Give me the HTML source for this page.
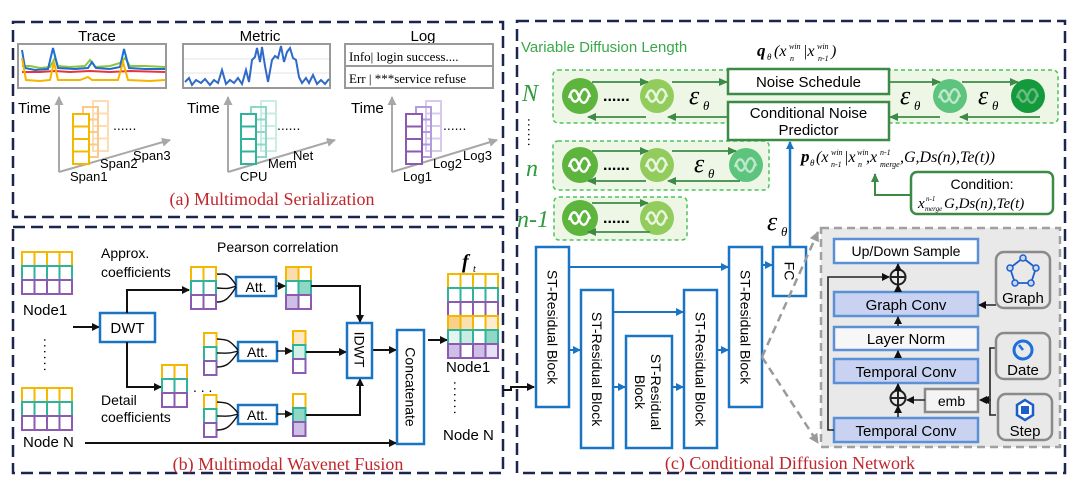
<!DOCTYPE html>
<html><head><meta charset="utf-8"><style>
html,body{margin:0;padding:0;background:#fff;}
svg{display:block;}
text{font-family:"Liberation Sans",sans-serif;}
.s, .s text, text.s{font-family:"Liberation Serif",serif;}
</style></head><body>
<svg width="1080" height="495" viewBox="0 0 1080 495" xmlns="http://www.w3.org/2000/svg">
<defs>
<marker id="ak" markerWidth="8" markerHeight="8" refX="7" refY="4" orient="auto" markerUnits="userSpaceOnUse"><path d="M0,0 L8,4 L0,8z" fill="#111"/></marker>
<marker id="ab" markerWidth="8" markerHeight="8" refX="7" refY="4" orient="auto" markerUnits="userSpaceOnUse"><path d="M0,0 L8,4 L0,8z" fill="#1a74c4"/></marker>
<marker id="ag" markerWidth="9" markerHeight="8" refX="8" refY="4" orient="auto" markerUnits="userSpaceOnUse"><path d="M0,0 L9,4 L0,8z" fill="#3c8a46"/></marker>
<marker id="agr" markerWidth="10" markerHeight="10" refX="9" refY="5" orient="auto" markerUnits="userSpaceOnUse"><path d="M0,0 L10,5 L0,10z" fill="#9a9a9a"/></marker>
<marker id="aa" markerWidth="9" markerHeight="9" refX="8" refY="4.5" orient="auto" markerUnits="userSpaceOnUse"><path d="M0,0 L9,4.5 L0,9z" fill="#a8a8a8"/></marker>
<g id="wv"><path d="M-11,2 C-8,-8 -4,-8 -1,1 C2,9 6,9 9,-1 M-10,-2 C-7,8 -3,8 0,-1 C3,-9 7,-9 10,1" fill="none" stroke="#fff" stroke-width="2.4"/></g>
<rect id="cy" width="12.5" height="14" fill="#fff" stroke="#f5b800" stroke-width="2"/>
<rect id="ct" width="12.5" height="14" fill="#fff" stroke="#2fb39b" stroke-width="2"/>
<rect id="cp" width="12.5" height="14" fill="#fff" stroke="#8a5bb0" stroke-width="2"/>
<g id="grid4">
<use href="#cy" x="0" y="0"/><use href="#cy" x="12.5" y="0"/><use href="#cy" x="25" y="0"/><use href="#cy" x="37.5" y="0"/>
<use href="#ct" x="0" y="14"/><use href="#ct" x="12.5" y="14"/><use href="#ct" x="25" y="14"/><use href="#ct" x="37.5" y="14"/>
<use href="#cp" x="0" y="28"/><use href="#cp" x="12.5" y="28"/><use href="#cp" x="25" y="28"/><use href="#cp" x="37.5" y="28"/>
</g>
<g id="grid2">
<use href="#cy" x="0" y="0"/><use href="#cy" x="12.5" y="0"/>
<use href="#ct" x="0" y="14"/><use href="#ct" x="12.5" y="14"/>
<use href="#cp" x="0" y="28"/><use href="#cp" x="12.5" y="28"/>
</g>
<g id="col1"><use href="#cy" x="0" y="0"/><use href="#ct" x="0" y="14"/><use href="#cp" x="0" y="28"/></g>
</defs>

<g fill="none" stroke="#1b2550" stroke-width="2.5" stroke-dasharray="12,6">
<rect x="13" y="22" width="490" height="195"/>
<rect x="13" y="227" width="490" height="246"/>
<rect x="517" y="21" width="548" height="452"/>
</g>

<!-- ===== Panel (a) ===== -->
<text x="97" y="41" font-size="15" text-anchor="middle">Trace</text>
<text x="260" y="41" font-size="15" text-anchor="middle">Metric</text>
<text x="423" y="41" font-size="15" text-anchor="middle">Log</text>
<rect x="18" y="44" width="148" height="44" fill="#fff" stroke="#999" stroke-width="2"/>
<polyline points="22,66 30,66 40,68 50,67 55,58 58,66 70,67 85,66 90,60 95,67 110,66 120,63 125,58 130,66 145,66 165,67" fill="none" stroke="#8cc63f" stroke-width="2"/>
<polyline points="22,72 40,72 55,71 70,72 90,71 110,72 130,71 165,72" fill="none" stroke="#e8333c" stroke-width="2"/>
<polyline points="22,50 25,68 35,70 48,69 53,48 58,68 75,69 88,68 92,62 96,68 110,69 120,67 124,49 129,68 145,69 165,69" fill="none" stroke="#1c6fd1" stroke-width="2"/>
<polyline points="22,58 26,80 40,81 50,80 54,62 58,80 80,80 88,77 92,80 118,80 123,62 128,80 150,81 165,80" fill="none" stroke="#f7b500" stroke-width="2"/>
<rect x="183" y="44" width="147" height="44" fill="#fff" stroke="#999" stroke-width="2"/>
<line x1="184" y1="59" x2="329" y2="59" stroke="#e4e4e4"/><line x1="184" y1="73" x2="329" y2="73" stroke="#e4e4e4"/>
<polyline points="185,82 189,78 192,85 196,80 201,83 205,79 210,85 214,80 218,83 222,70 226,84 230,80 234,83 238,78 242,84 246,70 249,82 252,60 255,57 257,48 260,62 262,47 265,66 268,82 272,60 275,56 278,58 281,46 284,62 287,52 290,48 293,58 296,60 299,77 302,83 306,78 309,83 313,75 317,84 321,80 325,84 329,79" fill="none" stroke="#2f6ac8" stroke-width="2"/>
<rect x="345" y="44" width="148" height="44" fill="#fff" stroke="#999" stroke-width="2"/>
<line x1="345" y1="66" x2="493" y2="66" stroke="#999" stroke-width="2"/>
<text x="349" y="61" font-size="13" class="s">Info| login success....</text>
<text x="349" y="83" font-size="13" class="s">Err | ***service refuse</text>

<g font-size="15">
<text x="18" y="113">Time</text><text x="187" y="113">Time</text><text x="351" y="113">Time</text>
</g>
<g stroke="#a8a8a8" stroke-width="2" fill="none" marker-end="url(#aa)">
<polyline points="59,172 59,97"/><line x1="59" y1="172" x2="170" y2="140"/>
<polyline points="228,172 228,97"/><line x1="228" y1="172" x2="335" y2="140"/>
<polyline points="392,172 392,97"/><line x1="392" y1="172" x2="497" y2="140"/>
</g>
<g fill="none" stroke-width="2">
<g stroke="#fcdcb0"><rect x="93" y="101" width="15" height="50"/><line x1="93" y1="113.5" x2="108" y2="113.5"/><line x1="93" y1="126" x2="108" y2="126"/><line x1="93" y1="138.5" x2="108" y2="138.5"/></g>
<g stroke="#fbc98a"><rect x="83" y="107" width="15" height="50"/><line x1="83" y1="119.5" x2="98" y2="119.5"/><line x1="83" y1="132" x2="98" y2="132"/><line x1="83" y1="144.5" x2="98" y2="144.5"/></g>
<g stroke="#f5b800" fill="#fff"><rect x="73" y="114" width="16" height="50"/><line x1="73" y1="126.5" x2="89" y2="126.5"/><line x1="73" y1="139" x2="89" y2="139"/><line x1="73" y1="151.5" x2="89" y2="151.5"/></g>
<g stroke="#c9ece4"><rect x="261" y="101" width="15" height="50"/><line x1="261" y1="113.5" x2="276" y2="113.5"/><line x1="261" y1="126" x2="276" y2="126"/><line x1="261" y1="138.5" x2="276" y2="138.5"/></g>
<g stroke="#8fd8c6"><rect x="251" y="107" width="15" height="50"/><line x1="251" y1="119.5" x2="266" y2="119.5"/><line x1="251" y1="132" x2="266" y2="132"/><line x1="251" y1="144.5" x2="266" y2="144.5"/></g>
<g stroke="#2fb39b" fill="#fff"><rect x="241" y="114" width="15" height="50"/><line x1="241" y1="126.5" x2="256" y2="126.5"/><line x1="241" y1="139" x2="256" y2="139"/><line x1="241" y1="151.5" x2="256" y2="151.5"/></g>
<g stroke="#d9c9ef"><rect x="426" y="101" width="15" height="50"/><line x1="426" y1="113.5" x2="441" y2="113.5"/><line x1="426" y1="126" x2="441" y2="126"/><line x1="426" y1="138.5" x2="441" y2="138.5"/></g>
<g stroke="#b39bdc"><rect x="416" y="107" width="15" height="50"/><line x1="416" y1="119.5" x2="431" y2="119.5"/><line x1="416" y1="132" x2="431" y2="132"/><line x1="416" y1="144.5" x2="431" y2="144.5"/></g>
<g stroke="#8a5bb0" fill="#fff"><rect x="406" y="114" width="16" height="50"/><line x1="406" y1="126.5" x2="422" y2="126.5"/><line x1="406" y1="139" x2="422" y2="139"/><line x1="406" y1="151.5" x2="422" y2="151.5"/></g>
</g>
<g fill="#111"><text x="113" y="130" font-size="14">......</text><text x="277" y="130" font-size="14">......</text><text x="443" y="130" font-size="14">......</text></g>
<g font-size="13">
<text x="133" y="160">Span3</text><text x="100" y="168">Span2</text><text x="70" y="181">Span1</text>
<text x="293" y="160">Net</text><text x="268" y="168">Mem</text><text x="240" y="181">CPU</text>
<text x="463" y="160">Log3</text><text x="433" y="168">Log2</text><text x="403" y="181">Log1</text>
</g>
<text x="272" y="205" font-size="18" fill="#c0262c" class="s" text-anchor="middle">(a) Multimodal Serialization</text>

<!-- ===== Panel (b) ===== -->
<use href="#grid4" x="22" y="252"/>
<use href="#grid4" x="22" y="388"/>
<text x="23" y="315" font-size="15">Node1</text>
<text x="23" y="447" font-size="15">Node N</text>
<text x="44" y="338" font-size="14" transform="rotate(90 44 338)" letter-spacing="2">......</text>
<line x1="73" y1="327" x2="99" y2="327" stroke="#111" stroke-width="2" marker-end="url(#ak)"/>
<rect x="100" y="313" width="55" height="29" fill="#fff" stroke="#1a74c4" stroke-width="2.5"/>
<text x="127.5" y="333" font-size="15" text-anchor="middle">DWT</text>
<polyline points="127,313 127,290 189,290" fill="none" stroke="#111" stroke-width="2" marker-end="url(#ak)"/>
<polyline points="127,342 127,387 161,387" fill="none" stroke="#111" stroke-width="2" marker-end="url(#ak)"/>
<text x="101" y="258" font-size="14">Approx.</text>
<text x="101" y="277" font-size="14">coefficients</text>
<text x="217" y="252" font-size="14">Pearson correlation</text>
<text x="101" y="405" font-size="14">Detail</text>
<text x="101" y="422" font-size="14">coefficients</text>
<use href="#grid2" x="191" y="267"/>
<use href="#grid2" x="162" y="365"/>
<text x="193" y="392" font-size="14">. . .</text>
<use href="#col1" x="204" y="333"/>
<use href="#col1" x="204" y="395"/>
<g fill="#fff" stroke="#1a74c4" stroke-width="2.5">
<rect x="236" y="277" width="40" height="19"/><rect x="238" y="342" width="39" height="19"/><rect x="238" y="405" width="39" height="19"/>
</g>
<g font-size="14" text-anchor="middle"><text x="256" y="292">Att.</text><text x="257.5" y="357">Att.</text><text x="257.5" y="420">Att.</text></g>
<g fill="none" stroke="#111" stroke-width="1.4">
<path d="M236,285 C226,270 224,275 217,274"/><path d="M236,286 C226,290 224,288 217,288"/><path d="M236,287 C228,300 224,302 217,302"/>
<path d="M238,350 C228,338 226,340 217,339"/><path d="M238,351 C228,354 226,353 217,353"/><path d="M238,352 C230,364 226,367 217,367"/>
<path d="M238,413 C228,401 226,403 217,402"/><path d="M238,414 C228,417 226,416 217,416"/><path d="M238,415 C230,427 226,430 217,430"/>
</g>
<g>
<rect x="286" y="267" width="12.5" height="14" fill="#fcdcae" stroke="#f5b800" stroke-width="2"/><use href="#cy" x="298.5" y="267"/>
<use href="#ct" x="286" y="281"/><rect x="298.5" y="281" width="12.5" height="14" fill="#8fd8c6" stroke="#2fb39b" stroke-width="2"/>
<rect x="286" y="295" width="12.5" height="14" fill="#cdbfe6" stroke="#8a5bb0" stroke-width="2"/><use href="#cp" x="298.5" y="295"/>
<rect x="293" y="331" width="12.5" height="14" fill="#fde8c8" stroke="#f5b800" stroke-width="2"/>
<rect x="293" y="345" width="12.5" height="14" fill="#d5f0e8" stroke="#2fb39b" stroke-width="2"/>
<use href="#cp" x="293" y="359"/>
<use href="#cy" x="293" y="394"/>
<rect x="293" y="408" width="12.5" height="14" fill="#8fd8c6" stroke="#2fb39b" stroke-width="2"/>
<rect x="293" y="422" width="12.5" height="14" fill="#cdbfe6" stroke="#8a5bb0" stroke-width="2"/>
</g>
<g stroke="#111" stroke-width="1.4" marker-end="url(#ak)">
<line x1="276" y1="286" x2="285" y2="286"/><line x1="277" y1="351" x2="292" y2="351"/><line x1="277" y1="414" x2="292" y2="414"/>
</g>
<g fill="none" stroke="#111" stroke-width="2" marker-end="url(#ak)">
<polyline points="311,286 360,286 360,322"/>
<line x1="306" y1="352" x2="346" y2="352"/>
<polyline points="306,415 360,415 360,379"/>
<line x1="372" y1="350" x2="396" y2="350"/>
<line x1="85" y1="443" x2="396" y2="443"/>
<line x1="428" y1="340" x2="447" y2="340"/>
</g>
<rect x="347" y="323" width="25" height="55" fill="#fff" stroke="#1a74c4" stroke-width="2.5"/>
<text x="353" y="350" font-size="14" text-anchor="middle" transform="rotate(90 359.5 350)" dy="5" dx="6">IDWT</text>
<rect x="397" y="330" width="27" height="114" fill="#fff" stroke="#1a74c4" stroke-width="2.5"/>
<text x="410.5" y="387" font-size="14" text-anchor="middle" transform="rotate(90 410.5 387)" dy="5">Concatenate</text>
<text x="462" y="268" font-size="20" class="s" font-style="italic" font-weight="bold">f</text><text x="473" y="272" font-size="10" class="s" font-style="italic">t</text>
<use href="#grid4" x="448" y="274"/>
<g stroke-width="2">
<rect x="448" y="316" width="12.5" height="14" fill="#fbcf87" stroke="#f5b800"/><rect x="460.5" y="316" width="12.5" height="14" fill="#fde0b0" stroke="#f5b800"/><rect x="473" y="316" width="12.5" height="14" fill="#fff" stroke="#f5b800"/><rect x="485.5" y="316" width="12.5" height="14" fill="#feebd0" stroke="#f5b800"/>
<rect x="448" y="330" width="12.5" height="14" fill="#e3f5f0" stroke="#2fb39b"/><rect x="460.5" y="330" width="12.5" height="14" fill="#c8ece2" stroke="#2fb39b"/><rect x="473" y="330" width="12.5" height="14" fill="#fff" stroke="#2fb39b"/><rect x="485.5" y="330" width="12.5" height="14" fill="#8fd8c6" stroke="#2fb39b"/>
<rect x="448" y="344" width="12.5" height="14" fill="#cdbfe6" stroke="#8a5bb0"/><rect x="460.5" y="344" width="12.5" height="14" fill="#fff" stroke="#8a5bb0"/><rect x="473" y="344" width="12.5" height="14" fill="#cdbfe6" stroke="#8a5bb0"/><rect x="485.5" y="344" width="12.5" height="14" fill="#e8e0f4" stroke="#8a5bb0"/>
</g>
<text x="446" y="372" font-size="15">Node1</text>
<text x="454" y="381" font-size="14" transform="rotate(90 454 381)" letter-spacing="2">......</text>
<text x="443" y="440" font-size="15">Node N</text>
<text x="288" y="470" font-size="18" fill="#c0262c" class="s" text-anchor="middle">(b) Multimodal Wavenet Fusion</text>

<polyline points="503,390 511,390 511,387 534,387" fill="none" stroke="#111" stroke-width="2" marker-end="url(#ak)"/>

<!-- ===== Panel (c) ===== -->
<text x="521" y="52" font-size="15" fill="#3aa84a">Variable Diffusion Length</text>
<g class="s" font-style="italic">
<text x="757" y="56" font-size="17" font-weight="bold">q</text>
<text x="767" y="60" font-size="9">θ</text>
<text x="774" y="56" font-size="16">(x</text>
<text x="789" y="49" font-size="8">win</text><text x="790" y="61" font-size="8">n</text>
<text x="803" y="56" font-size="16">|x</text>
<text x="817" y="49" font-size="8">win</text><text x="818" y="61" font-size="8">n-1</text>
<text x="831" y="56" font-size="16">)</text>
</g>

<g fill="#eef6e6" stroke="#4cc45c" stroke-width="1.5" stroke-dasharray="4,3">
<rect x="553" y="70" width="505" height="53" rx="5"/>
<rect x="553" y="141" width="216" height="49" rx="5"/>
<rect x="554" y="197" width="133" height="43" rx="5"/>
</g>
<g font-size="24" fill="#2e9a3e" class="s" font-style="italic">
<text x="522" y="101">N</text><text x="526" y="176">n</text><text x="517" y="227">n-1</text>
</g>
<text x="528" y="118" font-size="14" transform="rotate(90 528 118)" letter-spacing="1" fill="#111">......</text>

<g>
<circle cx="580" cy="96" r="18" fill="#5db53d"/><use href="#wv" x="580" y="96"/>
<circle cx="657" cy="96" r="17" fill="#92cc5c"/><use href="#wv" x="657" y="96" opacity="0.8"/>
<circle cx="950" cy="96" r="17" fill="#5cc47d"/><use href="#wv" x="950" y="96" opacity="0.6"/>
<circle cx="1028" cy="96" r="17" fill="#149a3c"/><use href="#wv" x="1028" y="96" opacity="0.35"/>
<circle cx="580" cy="165" r="18" fill="#5db53d"/><use href="#wv" x="580" y="165"/>
<circle cx="657" cy="165" r="17" fill="#92cc5c"/><use href="#wv" x="657" y="165" opacity="0.8"/>
<circle cx="746" cy="165" r="17" fill="#5cc47d"/><use href="#wv" x="746" y="165" opacity="0.6"/>
<circle cx="580" cy="218" r="18" fill="#5db53d"/><use href="#wv" x="580" y="218"/>
<circle cx="657" cy="218" r="17" fill="#92cc5c"/><use href="#wv" x="657" y="218" opacity="0.8"/>
</g>
<g font-size="16" font-weight="bold"><text x="603" y="101">......</text><text x="603" y="170">......</text><text x="603" y="223">......</text></g>
<g stroke="#3c8a46" stroke-width="1.8" fill="none" marker-end="url(#ag)">
<line x1="592" y1="82" x2="648" y2="82"/><line x1="672" y1="82" x2="727" y2="82"/>
<line x1="889" y1="82" x2="940" y2="82"/><line x1="962" y1="82" x2="1018" y2="82"/>
<line x1="727" y1="117" x2="668" y2="117"/><line x1="646" y1="117" x2="588" y2="117"/>
<line x1="1040" y1="117" x2="960" y2="117"/><line x1="940" y1="117" x2="890" y2="117"/>
<line x1="592" y1="151" x2="648" y2="151"/><line x1="672" y1="151" x2="736" y2="151"/>
<line x1="740" y1="181" x2="668" y2="181"/><line x1="646" y1="181" x2="588" y2="181"/>
<line x1="592" y1="203" x2="648" y2="203"/><line x1="650" y1="232" x2="588" y2="232"/>
</g>
<g class="s" font-style="italic" font-size="26">
<text x="689" y="104">ε</text><text x="900" y="104">ε</text><text x="978" y="104">ε</text><text x="694" y="172">ε</text><text x="767" y="230">ε</text>
</g>
<g class="s" font-style="italic" font-size="13">
<text x="703" y="110">θ</text><text x="914" y="110">θ</text><text x="992" y="110">θ</text><text x="708" y="178">θ</text><text x="781" y="236">θ</text>
</g>
<rect x="728" y="69" width="161" height="25" fill="#fff" stroke="#3c8a46" stroke-width="2.5"/>
<text x="808.5" y="87" font-size="15" text-anchor="middle">Noise Schedule</text>
<rect x="728" y="102" width="161" height="38" fill="#fff" stroke="#3c8a46" stroke-width="2.5"/>
<text x="808.5" y="118" font-size="15" text-anchor="middle">Conditional Noise</text>
<text x="808.5" y="135" font-size="15" text-anchor="middle">Predictor</text>
<line x1="790" y1="247" x2="790" y2="142" stroke="#1a74c4" stroke-width="2.5" marker-end="url(#ab)"/>
<g class="s" font-style="italic">
<text x="801" y="162" font-size="17" font-weight="bold">p</text><text x="810" y="166" font-size="9">θ</text>
<text x="816" y="162" font-size="16">(x</text><text x="831" y="155" font-size="8">win</text><text x="831" y="167" font-size="8">n-1</text>
<text x="844" y="162" font-size="16">|x</text><text x="857" y="155" font-size="8">win</text><text x="858" y="167" font-size="8">n</text>
<text x="866" y="162" font-size="16">,x</text><text x="880" y="155" font-size="8">n-1</text><text x="880" y="167" font-size="8">merge</text>
<text x="900" y="162" font-size="16">,G,Ds(n),Te(t))</text>
</g>
<polyline points="911,195 875,195 875,174" fill="none" stroke="#3c8a46" stroke-width="2" marker-end="url(#ag)"/>
<rect x="911" y="172" width="142" height="42" rx="6" fill="#fff" stroke="#3c8a46" stroke-width="2.5"/>
<text x="982" y="189" font-size="14" text-anchor="middle">Condition:</text>
<g class="s" font-style="italic">
<text x="918" y="208" font-size="15">x</text><text x="926" y="201" font-size="7">n-1</text><text x="925" y="211" font-size="7">merge</text>
<text x="944" y="208" font-size="15">G,Ds(n),Te(t)</text>
</g>

<g fill="#fff" stroke="#1a74c4" stroke-width="2.5">
<rect x="536" y="247" width="33" height="160"/>
<rect x="581" y="290" width="32" height="158"/>
<rect x="626" y="336" width="46" height="112"/>
<rect x="684" y="290" width="33" height="158"/>
<rect x="729" y="247" width="33" height="160"/>
<rect x="773" y="247" width="33" height="49"/>
</g>
<g font-size="14" text-anchor="middle">
<text transform="translate(552.5,327) rotate(90)" dy="5">ST-Residual Block</text>
<text transform="translate(597,369) rotate(90)" dy="5">ST-Residual Block</text>
<text transform="translate(656,392) rotate(90)" dy="5">ST-Residual</text>
<text transform="translate(640,392) rotate(90)" dy="5">Block</text>
<text transform="translate(700.5,369) rotate(90)" dy="5">ST-Residual Block</text>
<text transform="translate(745.5,327) rotate(90)" dy="5">ST-Residual Block</text>
<text transform="translate(789.5,271) rotate(90)" dy="5">FC</text>
</g>
<g stroke="#1a74c4" stroke-width="2" fill="none" marker-end="url(#ab)">
<line x1="569" y1="267" x2="728" y2="267"/>
<line x1="613" y1="312" x2="683" y2="312"/>
<line x1="569" y1="350" x2="580" y2="350"/>
<line x1="613" y1="387" x2="625" y2="387"/>
<line x1="672" y1="387" x2="683" y2="387"/>
<line x1="717" y1="350" x2="728" y2="350"/>
<line x1="762" y1="265" x2="772" y2="265"/>
</g>
<g stroke="#9a9a9a" stroke-width="2.5" stroke-dasharray="8,5" fill="none">
<line x1="762" y1="357" x2="818" y2="232" marker-end="url(#agr)"/>
<line x1="762" y1="357" x2="818" y2="443" marker-end="url(#agr)"/>
</g>
<rect x="821" y="228" width="239" height="219" fill="#e9e9e9" stroke="#a0a0a0" stroke-width="2.5" stroke-dasharray="8,5"/>
<g stroke="#5b8fd6" stroke-width="2.5">
<rect x="834" y="239" width="144" height="24" fill="#fff"/>
<rect x="834" y="292" width="144" height="24" fill="#c9d3f1"/>
<rect x="834" y="327" width="144" height="23" fill="#f7f7f7"/>
<rect x="834" y="359" width="144" height="24" fill="#c9d3f1"/>
<rect x="834" y="418" width="144" height="24" fill="#c9d3f1"/>
</g>
<rect x="925" y="389" width="53" height="23" fill="#f4f4f4" stroke="#8a8a8a" stroke-width="2.5"/>
<g font-size="14" text-anchor="middle">
<text x="906" y="256">Up/Down Sample</text>
<text x="906" y="310" font-size="15">Graph Conv</text>
<text x="906" y="344" font-size="15">Layer Norm</text>
<text x="906" y="377" font-size="15">Temporal Conv</text>
<text x="906" y="436" font-size="15">Temporal Conv</text>
<text x="951.5" y="406">emb</text>
</g>
<g stroke="#222" stroke-width="2" fill="none">
<circle cx="898" cy="277" r="7.5"/><line x1="890.5" y1="277" x2="905.5" y2="277"/><line x1="898" y1="269.5" x2="898" y2="284.5"/>
<circle cx="898" cy="398" r="7.5"/><line x1="890.5" y1="398" x2="905.5" y2="398"/><line x1="898" y1="390.5" x2="898" y2="405.5"/>
</g>
<g stroke="#222" stroke-width="1.6" fill="none" marker-end="url(#ak)">
<line x1="898" y1="269" x2="898" y2="264"/>
<line x1="898" y1="291" x2="898" y2="285"/>
<line x1="898" y1="326" x2="898" y2="317"/>
<line x1="898" y1="358" x2="898" y2="351"/>
<line x1="898" y1="390" x2="898" y2="384"/>
<line x1="898" y1="417" x2="898" y2="406"/>
<line x1="925" y1="400" x2="907" y2="400"/>
<polyline points="834,430 828,430 828,277 889,277"/>
<line x1="996" y1="305" x2="979" y2="305"/>
<polyline points="996,348 990,348 990,400 980,400"/>
<polyline points="996,415 990,415 990,400 982,400"/>
</g>
<g fill="#e9e9e9" stroke="#8a8a8a" stroke-width="2.5">
<rect x="996" y="252" width="54" height="56" rx="8"/>
<rect x="996" y="333" width="54" height="46" rx="8"/>
<rect x="998" y="394" width="54" height="46" rx="8"/>
</g>
<polygon points="1023,258 1036,268 1031,283 1015,283 1010,268" fill="none" stroke="#1d5fc9" stroke-width="1.8"/>
<g fill="#c9d6f5" stroke="#1d5fc9" stroke-width="1.5">
<circle cx="1023" cy="258" r="3"/><circle cx="1036" cy="268" r="3"/><circle cx="1031" cy="283" r="3"/><circle cx="1015" cy="283" r="3"/><circle cx="1010" cy="268" r="3"/>
</g>
<text x="1023" y="303" font-size="15" text-anchor="middle">Graph</text>
<circle cx="1023" cy="350" r="9" fill="none" stroke="#1d6fe0" stroke-width="3"/>
<line x1="1023" y1="350" x2="1019" y2="345" stroke="#1d6fe0" stroke-width="2.5"/>
<text x="1023" y="375" font-size="15" text-anchor="middle">Date</text>
<polygon points="1025,400 1033,405 1033,415 1025,420 1017,415 1017,405" fill="#fff" stroke="#1d5fc9" stroke-width="2.5"/>
<rect x="1021" y="406" width="8" height="8" fill="#1d5fc9"/>
<text x="1025" y="436" font-size="15" text-anchor="middle">Step</text>

<text x="790" y="469" font-size="18" fill="#c0262c" class="s" text-anchor="middle">(c) Conditional Diffusion Network</text>
</svg>
</body></html>
